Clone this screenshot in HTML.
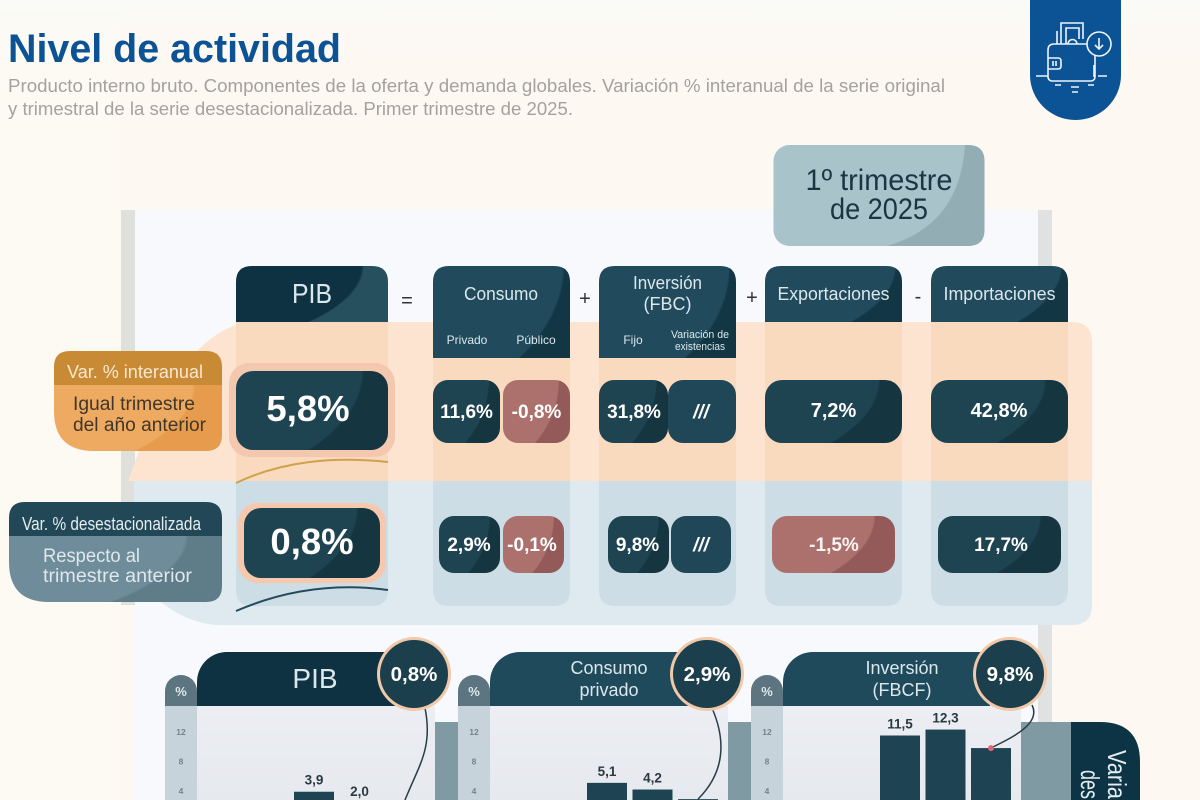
<!DOCTYPE html>
<html lang="es">
<head>
<meta charset="utf-8">
<title>Nivel de actividad</title>
<style>
html,body{margin:0;padding:0;width:1200px;height:800px;overflow:hidden;background:#fdf8f2}
svg{display:block;font-family:"Liberation Sans",sans-serif;filter:blur(.35px)}
text{font-family:"Liberation Sans",sans-serif}
.h{fill:#dbe7eb;text-anchor:middle}
.v{fill:#fff;font-weight:bold;text-anchor:middle}
</style>
</head>
<body>
<svg id="page" xmlns="http://www.w3.org/2000/svg" width="1200" height="800" viewBox="0 0 1200 800">
<defs>
<radialGradient id="gHeadDark" cx="-.75" cy="0" r="1.6" fx="-.75" fy="0"><stop offset=".985" stop-color="#0e3241"/><stop offset=".995" stop-color="#27505f"/></radialGradient>
<radialGradient id="gHeadLight" cx="-.75" cy="0" r="1.72" fx="-.75" fy="0"><stop offset=".985" stop-color="#214b5d"/><stop offset=".995" stop-color="#123644"/></radialGradient>
<radialGradient id="gBox" cx="-.75" cy="0" r="1.6" fx="-.75" fy="0"><stop offset=".985" stop-color="#1e4452"/><stop offset=".995" stop-color="#153540"/></radialGradient>
<radialGradient id="gBoxRed" cx="-.75" cy="0" r="1.6" fx="-.75" fy="0"><stop offset=".985" stop-color="#ad716d"/><stop offset=".995" stop-color="#935a59"/></radialGradient>
<radialGradient id="gOrange" cx="-.75" cy="0" r="1.6" fx="-.75" fy="0"><stop offset=".985" stop-color="#eeaa60"/><stop offset=".995" stop-color="#e69c4c"/></radialGradient>
<radialGradient id="gSlate" cx="-.75" cy="0" r="1.6" fx="-.75" fy="0"><stop offset=".985" stop-color="#6f8c9a"/><stop offset=".995" stop-color="#5f7c89"/></radialGradient>
<linearGradient id="gArea" x1="0" y1="0" x2="0" y2="1"><stop offset="0" stop-color="#eceef3"/><stop offset="1" stop-color="#e6e9ee"/></linearGradient>
<linearGradient id="gTop" x1="0" y1="0" x2="0" y2="1"><stop offset="0" stop-color="#fafaf6"/><stop offset="1" stop-color="#fafaf6" stop-opacity="0"/></linearGradient>
</defs>

<rect width="1200" height="800" fill="#fdf8f2"/>
<rect width="120" height="800" fill="#fcfaf3"/>
<rect width="1200" height="60" fill="url(#gTop)"/>

<text x="8" y="62" font-size="40" font-weight="bold" fill="#0b5394" textLength="333" lengthAdjust="spacingAndGlyphs">Nivel de actividad</text>
<text x="8" y="92" font-size="18.500" fill="#a5a19d" textLength="937" lengthAdjust="spacingAndGlyphs">Producto interno bruto. Componentes de la oferta y demanda globales. Variación % interanual de la serie original</text>
<text x="8" y="115" font-size="18.500" fill="#a5a19d" textLength="565" lengthAdjust="spacingAndGlyphs">y trimestral de la serie desestacionalizada. Primer trimestre de 2025.</text>

<g>
<path d="M1030 0H1121V75A45.500 45 0 0 1 1030 75Z" fill="#0b5394"/>
<g fill="none" stroke="#eef4f8" stroke-width="1.6">
<path d="M1061 44V23H1083V39M1057 44V31M1066 44V28H1079V39"/>
<path d="M1087 44H1054Q1048 44 1048 50V77A4 4 0 0 0 1052 81H1091A4 4 0 0 0 1095 77V56"/>
<path d="M1048 58H1058Q1061 58 1061 61V66Q1061 69 1058 69H1048"/>
<path d="M1053 61V66M1056 61V66"/>
<path d="M1068 44A4.500 4.500 0 0 1 1077 44"/>
<circle cx="1099" cy="44" r="12"/>
<path d="M1099 38V49M1095 45L1099 49L1103 45M1094 65V77"/>
<path d="M1036 76H1048M1098 76H1107M1055 85H1061M1071 87H1079M1088 85H1094M1072 92H1078"/>
</g>
</g>

<rect x="134" y="210" width="904" height="590" fill="#f7f9fc"/>
<rect x="121" y="210" width="14" height="395" fill="#dfdfdc"/>
<rect x="1038" y="210" width="14" height="590" fill="#e0e1e1"/>

<rect x="773.500" y="145" width="211" height="101" rx="16" fill="#a9c3ca"/>
<path d="M965 145Q960 225 887 246H968Q984.500 246 984.500 230V161Q984.500 145 968 145Z" fill="#93adb5"/>
<text x="879" y="190" font-size="30" fill="#1a3643" text-anchor="middle" textLength="147" lengthAdjust="spacingAndGlyphs">1º trimestre</text>
<text x="879" y="219" font-size="30" fill="#1a3643" text-anchor="middle" textLength="98" lengthAdjust="spacingAndGlyphs">de 2025</text>

<path d="M128 481Q180 330 250 322H1072Q1092 322 1092 342V481Z" fill="#fde4d0"/>
<path d="M134 481H1092V605Q1092 625 1072 625H215Q170 620 134 575Z" fill="#deeaf0"/>

<g>
<rect x="236" y="322" width="152" height="159" fill="#f9dabf"/>
<path d="M236 481H388V590Q388 606 372 606H252Q236 606 236 590Z" fill="#cddde5"/>
<rect x="433" y="322" width="137" height="159" fill="#f9dabf"/>
<path d="M433 481H570V590Q570 606 554 606H449Q433 606 433 590Z" fill="#cddde5"/>
<rect x="599" y="322" width="137" height="159" fill="#f9dabf"/>
<path d="M599 481H736V590Q736 606 720 606H615Q599 606 599 590Z" fill="#cddde5"/>
<rect x="765" y="322" width="137" height="159" fill="#f9dabf"/>
<path d="M765 481H902V590Q902 606 886 606H781Q765 606 765 590Z" fill="#cddde5"/>
<rect x="931" y="322" width="137" height="159" fill="#f9dabf"/>
<path d="M931 481H1068V590Q1068 606 1052 606H947Q931 606 931 590Z" fill="#cddde5"/>
</g>

<path d="M236 322V282Q236 266 252 266H372Q388 266 388 282V322Z" fill="url(#gHeadDark)"/>
<text class="h" x="312" y="303" font-size="28" textLength="40" lengthAdjust="spacingAndGlyphs">PIB</text>
<path d="M433 358V282Q433 266 449 266H554Q570 266 570 282V358Z" fill="url(#gHeadLight)"/>
<text class="h" x="501" y="300" font-size="18" textLength="74" lengthAdjust="spacingAndGlyphs">Consumo</text>
<text class="h" x="467" y="344" font-size="12">Privado</text>
<text class="h" x="536" y="344" font-size="12">Público</text>
<path d="M599 358V282Q599 266 615 266H720Q736 266 736 282V358Z" fill="url(#gHeadLight)"/>
<text class="h" x="667.500" y="289" font-size="18" textLength="69" lengthAdjust="spacingAndGlyphs">Inversión</text>
<text class="h" x="667.500" y="310" font-size="18">(FBC)</text>
<text class="h" x="633" y="344" font-size="12">Fijo</text>
<text class="h" x="700" y="338" font-size="11" textLength="58" lengthAdjust="spacingAndGlyphs">Variación de</text>
<text class="h" x="700" y="350" font-size="11" textLength="50" lengthAdjust="spacingAndGlyphs">existencias</text>
<path d="M765 322V282Q765 266 781 266H886Q902 266 902 282V322Z" fill="url(#gHeadLight)"/>
<text class="h" x="833.500" y="300" font-size="18" textLength="112" lengthAdjust="spacingAndGlyphs">Exportaciones</text>
<path d="M931 322V282Q931 266 947 266H1052Q1068 266 1068 282V322Z" fill="url(#gHeadLight)"/>
<text class="h" x="999.500" y="300" font-size="18" textLength="112" lengthAdjust="spacingAndGlyphs">Importaciones</text>

<g font-size="20" fill="#333" text-anchor="middle">
<text x="407" y="307">=</text>
<text x="585" y="305">+</text>
<text x="752" y="304">+</text>
<text x="918" y="303">-</text>
</g>

<path d="M54 385V367Q54 351 70 351H206Q222 351 222 367V385Z" fill="#c98a35"/>
<path d="M54 385H222V435Q222 451 206 451H94Q54 451 54 411Z" fill="url(#gOrange)"/>
<text x="67" y="378" font-size="18" fill="#f9e8d0" textLength="136" lengthAdjust="spacingAndGlyphs">Var. % interanual</text>
<text x="73" y="410" font-size="19" fill="#40362a" textLength="122" lengthAdjust="spacingAndGlyphs">Igual trimestre</text>
<text x="73" y="431" font-size="19" fill="#40362a" textLength="133" lengthAdjust="spacingAndGlyphs">del año anterior</text>

<path d="M9 536V518Q9 502 25 502H206Q222 502 222 518V536Z" fill="#224857"/>
<path d="M9 536H222V586Q222 602 206 602H49Q9 602 9 562Z" fill="url(#gSlate)"/>
<text x="22" y="530" font-size="18" fill="#e5edf0" textLength="179" lengthAdjust="spacingAndGlyphs">Var. % desestacionalizada</text>
<text x="43" y="562" font-size="19" fill="#dfe8ec" textLength="97" lengthAdjust="spacingAndGlyphs">Respecto al</text>
<text x="43" y="582" font-size="19" fill="#dfe8ec" textLength="149" lengthAdjust="spacingAndGlyphs">trimestre anterior</text>

<rect x="229" y="363" width="166" height="94" rx="20" fill="#f4c8ae"/>
<rect x="236" y="371" width="152" height="79" rx="17" fill="url(#gBox)"/>
<text class="v" x="308" y="421" font-size="36.500">5,8%</text>
<rect x="238" y="503" width="148" height="80" rx="20" fill="#f6c9ae"/>
<rect x="244" y="508" width="136" height="70" rx="17" fill="url(#gBox)"/>
<text class="v" x="312" y="554" font-size="36.500">0,8%</text>
<path d="M236 483C280 462 330 456 388 462" fill="none" stroke="#cfa24a" stroke-width="2"/>
<path d="M236 611C280 592 330 582 388 590" fill="none" stroke="#274a5a" stroke-width="2"/>

<rect x="433" y="380" width="67" height="63" rx="15" fill="url(#gBox)"/>
<text class="v" x="466.500" y="418" font-size="19">11,6%</text>
<rect x="503" y="380" width="67" height="63" rx="15" fill="url(#gBoxRed)"/>
<text class="v" x="536.500" y="418" font-size="19">-0,8%</text>
<rect x="599" y="380" width="69" height="63" rx="15" fill="url(#gBox)"/>
<text class="v" x="634" y="418" font-size="19">31,8%</text>
<rect x="668" y="380" width="68" height="63" rx="15" fill="#1f4757"/>
<text class="v" x="701" y="418" font-size="19" font-style="italic">///</text>
<rect x="765" y="380" width="137" height="63" rx="17" fill="url(#gBox)"/>
<text class="v" x="833.500" y="417" font-size="20">7,2%</text>
<rect x="931" y="380" width="137" height="63" rx="17" fill="url(#gBox)"/>
<text class="v" x="999" y="417" font-size="20">42,8%</text>

<rect x="439" y="516" width="61" height="57" rx="15" fill="url(#gBox)"/>
<text class="v" x="469" y="551" font-size="19">2,9%</text>
<rect x="503" y="516" width="61" height="57" rx="15" fill="url(#gBoxRed)"/>
<text class="v" x="532" y="551" font-size="19">-0,1%</text>
<rect x="608" y="516" width="61" height="57" rx="15" fill="url(#gBox)"/>
<text class="v" x="637.500" y="551" font-size="19">9,8%</text>
<rect x="671" y="516" width="60" height="57" rx="15" fill="#1f4757"/>
<text class="v" x="701" y="551" font-size="19" font-style="italic">///</text>
<rect x="772" y="516" width="123" height="57" rx="15" fill="url(#gBoxRed)"/>
<text class="v" x="834" y="551" font-size="19" fill-opacity=".92">-1,5%</text>
<rect x="938" y="516" width="123" height="57" rx="15" fill="url(#gBox)"/>
<text class="v" x="1001" y="551" font-size="19">17,7%</text>

<g id="charts"></g>

<path d="M1071 722H1100Q1140 722 1140 762V800H1071Z" fill="#0c3444"/>
<text transform="translate(1108,750) rotate(90)" font-size="26" fill="#e6edef" textLength="49" lengthAdjust="spacingAndGlyphs">Varia</text>
<text transform="translate(1081,770) rotate(90)" font-size="26" fill="#e6edef" textLength="29" lengthAdjust="spacingAndGlyphs">des</text>
</svg>

<script>
const tickLabels = [12, 8, 4];
const pibCategories = ["t2", "t3", "t4"];
const pibValues = [3.9, 2.0, 0.8];
const consumoCategories = ["t2", "t3", "t4"];
const consumoValues = [5.1, 4.2, 2.9];
const inversionCategories = ["t2", "t3", "t4"];
const inversionValues = [11.5, 12.3, 9.8];

const NS = "http://www.w3.org/2000/svg";
const FRAME_BOTTOM = 800;
const chartsRoot = document.getElementById("charts");

function yScale(v) { return 820.6 - v * 7.4; }
function xScale(left, i) { return left + 97 + i * 45.5; }
function fmt(v) { return v.toFixed(1).replace(".", ","); }
function mk(parent, tag, attrs, content) {
  const el = document.createElementNS(NS, tag);
  for (const k in attrs) el.setAttribute(k, attrs[k]);
  if (content !== undefined) el.textContent = content;
  parent.appendChild(el);
  return el;
}

function drawChart(key, left, circleX, headerEnd, headerFill, categories, values, titleLines, pointerStart, c1, c2) {
  const g = mk(chartsRoot, "g", {});
  
  

  const area = mk(g, "rect", { x: left, y: 706, width: 238, height: 94, fill: "url(#gArea)" });
  
  

  const axisCol = mk(g, "rect", { x: left - 32, y: 706, width: 32, height: 94, fill: "#c6d3da" });
  
  

  const unitTab = mk(g, "path", { d: "M" + (left - 32) + " 706V691A16 16 0 0 1 " + left + " 691V706Z", fill: "#5c7580" });
  
  

  const unit = mk(g, "text", { x: left - 16, y: 696, "font-size": 13, "font-weight": "bold", fill: "#dfe8ea", "text-anchor": "middle" }, "%");
  
  

  tickLabels.forEach(function (t) {
    const tick = mk(g, "text", { x: left - 16, y: yScale(t) + 3, "font-size": 8.5, "font-weight": "bold", fill: "#748489", "text-anchor": "middle" }, String(t));
    
    
  });

  const header = mk(g, "path", { d: "M" + left + " 706V682A30 30 0 0 1 " + (left + 30) + " 652H" + headerEnd + "V706Z", fill: headerFill });
  
  

  titleLines.forEach(function (line) {
    const t = mk(g, "text", { x: line.x, y: line.y, "font-size": line.size, fill: "#dbe7eb", "text-anchor": "middle" }, line.text);
    
    
  });

  let last = null;
  values.forEach(function (v, i) {
    const x = xScale(left, i);
    const top = yScale(v);
    if (top < FRAME_BOTTOM) {
      const bar = mk(g, "rect", { x: x, y: top, width: 40, height: FRAME_BOTTOM - top, fill: "#1e4352" });
      
      
    }
    if (i < values.length - 1) {
      const lab = mk(g, "text", { x: x + 20, y: Math.min(top - 7, 796), "font-size": 13.5, "font-weight": "bold", fill: "#2b3a40", "text-anchor": "middle" }, fmt(v));
      
      
    }
    last = { x: x + 20, y: top };
  });

  const sx = pointerStart[0], sy = pointerStart[1];
  const endY = Math.min(last.y, FRAME_BOTTOM);
  const pointer = mk(g, "path", {
    d: "M" + sx + " " + sy + "C" + (sx + c1[0]) + " " + (sy + c1[1]) + " " + (last.x + c2[0]) + " " + (endY + c2[1]) + " " + last.x + " " + endY,
    fill: "none", stroke: "#2a3d46", "stroke-width": 1.5
  });
  
  

  if (last.y + 3 <= FRAME_BOTTOM) {
    const dot = mk(g, "circle", { cx: last.x, cy: last.y, r: 3, fill: "#d9667a" });
    
    
  }

  const halo = mk(g, "circle", { cx: circleX, cy: 674, r: 37, fill: "#f1c8a8" });
  
  

  const circle = mk(g, "circle", { cx: circleX, cy: 674, r: 34, fill: "#1c3f4d" });
  
  

  const callout = mk(g, "text", { x: circleX, y: 681, "font-size": 20.5, "font-weight": "bold", fill: "#fff", "text-anchor": "middle" }, fmt(values[values.length - 1]) + "%");
  
  
}

function drawSideBar(name, x, w) {
  const r = mk(chartsRoot, "rect", { x: x, y: 722, width: w, height: 78, fill: "#7f9aa3" });
  
  
}

drawSideBar("side-band-1", 435, 23);
drawSideBar("side-band-2", 728, 24);
drawSideBar("side-band-3", 1021, 50);

drawChart("pib", 197, 414, 395, "#0e3241", pibCategories, pibValues,
  [{ text: "PIB", x: 315, y: 688, size: 28 }],
  [425, 708], [8, 40], [14, -35]);
drawChart("consumo", 490, 707, 690, "#1f4a5c", consumoCategories, consumoValues,
  [{ text: "Consumo", x: 609, y: 674, size: 18 }, { text: "privado", x: 609, y: 696, size: 18 }],
  [712, 708], [16, 37], [24, -24]);
drawChart("inversion", 783, 1010, 990, "#1f4a5c", inversionCategories, inversionValues,
  [{ text: "Inversión", x: 902, y: 674, size: 18 }, { text: "(FBCF)", x: 902, y: 696, size: 18 }],
  [1032, 705], [10, 20], [17, -9]);
</script>
</body>
</html>
